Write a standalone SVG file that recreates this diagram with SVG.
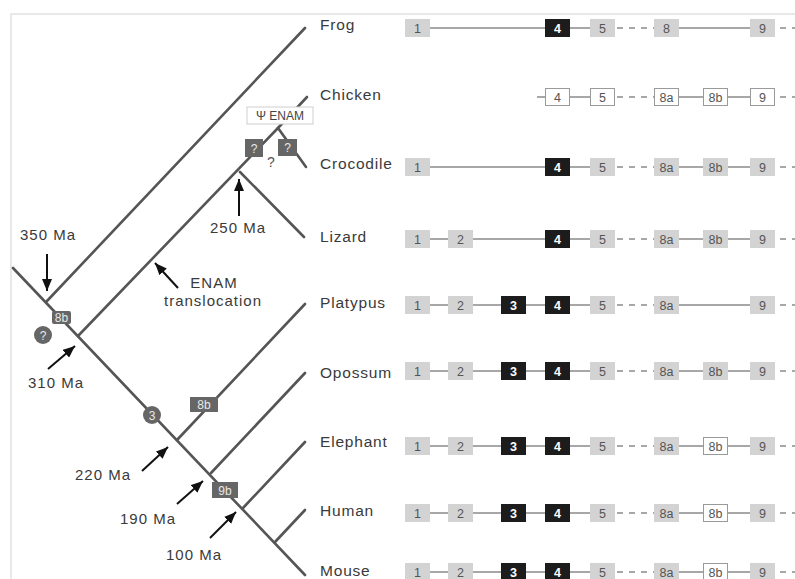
<svg xmlns="http://www.w3.org/2000/svg" width="795" height="579" viewBox="0 0 795 579">
<defs>
<marker id="ah" markerUnits="userSpaceOnUse" markerWidth="12" markerHeight="10" refX="12" refY="5" orient="auto">
<path d="M0,0 L12,5 L0,10 z" fill="#111"/>
</marker>
<style>
.frame{stroke:#e2e2e2;stroke-width:1.5;fill:none}
.br{stroke:#555;stroke-width:2.6;fill:none;stroke-linecap:round}
.arr{stroke:#111;stroke-width:2;fill:none;marker-end:url(#ah)}
.lbl{font-family:"Liberation Sans",Arial,sans-serif;font-size:15px;fill:#3a3a3a;letter-spacing:1px}
.sp{font-family:"Liberation Sans",Arial,sans-serif;font-size:15.5px;fill:#3a3a3a;letter-spacing:0.8px}
.mk{fill:#666}
.mt{font-family:"Liberation Sans",Arial,sans-serif;font-size:12px;fill:#e8e8e8;text-anchor:middle}
.ln{stroke:#8a8a8a;stroke-width:1.5;fill:none}
.ds{stroke:#8a8a8a;stroke-width:1.5;fill:none;stroke-dasharray:6,6}
.L{fill:#d3d3d3}
.D{fill:#1c1c1c}
.W{fill:#fff;stroke:#9a9a9a;stroke-width:1}
.t{font-family:"Liberation Sans",Arial,sans-serif;font-size:12.5px;fill:#555;text-anchor:middle}
.tw{font-family:"Liberation Sans",Arial,sans-serif;font-size:12.5px;fill:#fff;text-anchor:middle;font-weight:bold}
</style>
</defs>
<rect width="795" height="579" fill="#fff"/>
<path class="frame" d="M11,579 L11,14 L795,14"/>

<g id="connectors">
<line class="br" x1="13" y1="268" x2="305" y2="575"/>
<line class="br" x1="47" y1="301" x2="305" y2="28"/>
<line class="br" x1="78" y1="336" x2="278" y2="128"/>
<line class="br" x1="278" y1="128" x2="307" y2="97"/>
<line class="br" x1="278" y1="128" x2="306" y2="167"/>
<line class="br" x1="240" y1="172" x2="304" y2="237"/>
<line class="br" x1="177" y1="440" x2="305" y2="304"/>
<line class="br" x1="211" y1="473" x2="305" y2="373"/>
<line class="br" x1="243" y1="508" x2="305" y2="442"/>
<line class="br" x1="275" y1="542" x2="305" y2="510"/>
</g>

<g id="markers">
<g id="m-8b-root"><rect class="mk" x="52" y="311" width="19" height="13" rx="2"/><text class="mt" x="61.5" y="321.5">8b</text></g>
<g id="m-q-root"><circle class="mk" cx="43" cy="335" r="9"/><text class="mt" x="43" y="339.5">?</text></g>
<g id="m-3"><circle class="mk" cx="152" cy="415" r="9"/><text class="mt" x="152" y="419.5">3</text></g>
<g id="m-8b-plat"><rect class="mk" x="190" y="397" width="28" height="15"/><text class="mt" x="204" y="409">8b</text></g>
<g id="m-9b"><rect class="mk" x="212" y="482" width="26" height="16"/><text class="mt" x="225" y="494.5">9b</text></g>
<g id="m-q1"><rect class="mk" x="245" y="139" width="18" height="18"/><text class="mt" x="254" y="152.5">?</text></g>
<g id="m-q2"><rect class="mk" x="278" y="139" width="19" height="17"/><text class="mt" x="287.5" y="152">?</text></g>
<g id="psi"><rect x="247" y="107" width="66" height="17" fill="#fff" stroke="#cfcfcf" stroke-width="1"/><text x="280" y="120" font-family="'Liberation Sans',Arial,sans-serif" font-size="12" fill="#444" text-anchor="middle">Ψ ENAM</text></g>
<text x="271" y="167" font-family="'Liberation Sans',Arial,sans-serif" font-size="14" fill="#555" text-anchor="middle">?</text>
</g>

<g id="annotations">
<line class="arr" x1="47" y1="254" x2="47" y2="291"/>
<text class="lbl" x="20" y="240">350 Ma</text>
<line class="arr" x1="239" y1="216" x2="239" y2="179"/>
<text class="lbl" x="210" y="233">250 Ma</text>
<line class="arr" x1="178" y1="288" x2="155" y2="263"/>
<text class="lbl" x="214" y="288" text-anchor="middle">ENAM</text>
<text class="lbl" x="213" y="306" text-anchor="middle">translocation</text>
<line class="arr" x1="48" y1="369" x2="75" y2="346"/>
<text class="lbl" x="28" y="388">310 Ma</text>
<line class="arr" x1="142" y1="471" x2="168" y2="447"/>
<text class="lbl" x="75" y="480">220 Ma</text>
<line class="arr" x1="177" y1="504" x2="203" y2="481"/>
<text class="lbl" x="120" y="524">190 Ma</text>
<line class="arr" x1="210" y1="538" x2="236" y2="512"/>
<text class="lbl" x="166" y="560">100 Ma</text>
</g>

<g id="species">
<text class="sp" x="320" y="30">Frog</text>
<text class="sp" x="320" y="100">Chicken</text>
<text class="sp" x="320" y="169">Crocodile</text>
<text class="sp" x="320" y="242">Lizard</text>
<text class="sp" x="320" y="308">Platypus</text>
<text class="sp" x="320" y="378">Opossum</text>
<text class="sp" x="320" y="447">Elephant</text>
<text class="sp" x="320" y="516">Human</text>
<text class="sp" x="320" y="576">Mouse</text>
</g>

<g id="row-frog">
<line class="ln" x1="430" y1="28" x2="590" y2="28"/><line class="ds" x1="617" y1="28" x2="654" y2="28"/><line class="ln" x1="679" y1="28" x2="750" y2="28"/><line class="ds" x1="780" y1="28" x2="795" y2="28"/>
<rect class="L" x="405" y="19" width="25" height="18"/><text class="t" x="417.5" y="32.5">1</text>
<rect class="D" x="545" y="19" width="25" height="18"/><text class="tw" x="557.5" y="32.5">4</text>
<rect class="L" x="590" y="19" width="25" height="18"/><text class="t" x="602.5" y="32.5">5</text>
<rect class="L" x="654" y="19" width="25" height="18"/><text class="t" x="666.5" y="32.5">8</text>
<rect class="L" x="750" y="19" width="25" height="18"/><text class="t" x="762.5" y="32.5">9</text>
</g>

<g id="row-chicken">
<line class="ln" x1="537" y1="97" x2="590" y2="97"/><line class="ds" x1="617" y1="97" x2="654" y2="97"/><line class="ln" x1="679" y1="97" x2="750" y2="97"/><line class="ds" x1="780" y1="97" x2="795" y2="97"/>
<rect class="W" x="545.5" y="88.5" width="24" height="17"/><text class="t" x="557.5" y="101.5">4</text>
<rect class="W" x="590.5" y="88.5" width="24" height="17"/><text class="t" x="602.5" y="101.5">5</text>
<rect class="W" x="654.5" y="88.5" width="24" height="17"/><text class="t" x="666.5" y="101.5">8a</text>
<rect class="W" x="703.5" y="88.5" width="24" height="17"/><text class="t" x="715.5" y="101.5">8b</text>
<rect class="W" x="750.5" y="88.5" width="24" height="17"/><text class="t" x="762.5" y="101.5">9</text>
</g>

<g id="row-crocodile">
<line class="ln" x1="430" y1="167" x2="590" y2="167"/><line class="ds" x1="617" y1="167" x2="654" y2="167"/><line class="ln" x1="679" y1="167" x2="750" y2="167"/><line class="ds" x1="780" y1="167" x2="795" y2="167"/>
<rect class="L" x="405" y="158" width="25" height="18"/><text class="t" x="417.5" y="171.5">1</text>
<rect class="D" x="545" y="158" width="25" height="18"/><text class="tw" x="557.5" y="171.5">4</text>
<rect class="L" x="590" y="158" width="25" height="18"/><text class="t" x="602.5" y="171.5">5</text>
<rect class="L" x="654" y="158" width="25" height="18"/><text class="t" x="666.5" y="171.5">8a</text>
<rect class="L" x="703" y="158" width="25" height="18"/><text class="t" x="715.5" y="171.5">8b</text>
<rect class="L" x="750" y="158" width="25" height="18"/><text class="t" x="762.5" y="171.5">9</text>
</g>

<g id="row-lizard">
<line class="ln" x1="430" y1="239" x2="590" y2="239"/><line class="ds" x1="617" y1="239" x2="654" y2="239"/><line class="ln" x1="679" y1="239" x2="750" y2="239"/><line class="ds" x1="780" y1="239" x2="795" y2="239"/>
<rect class="L" x="405" y="230" width="25" height="18"/><text class="t" x="417.5" y="243.5">1</text>
<rect class="L" x="448" y="230" width="25" height="18"/><text class="t" x="460.5" y="243.5">2</text>
<rect class="D" x="545" y="230" width="25" height="18"/><text class="tw" x="557.5" y="243.5">4</text>
<rect class="L" x="590" y="230" width="25" height="18"/><text class="t" x="602.5" y="243.5">5</text>
<rect class="L" x="654" y="230" width="25" height="18"/><text class="t" x="666.5" y="243.5">8a</text>
<rect class="L" x="703" y="230" width="25" height="18"/><text class="t" x="715.5" y="243.5">8b</text>
<rect class="L" x="750" y="230" width="25" height="18"/><text class="t" x="762.5" y="243.5">9</text>
</g>

<g id="row-platypus">
<line class="ln" x1="430" y1="305" x2="590" y2="305"/><line class="ds" x1="617" y1="305" x2="654" y2="305"/><line class="ln" x1="679" y1="305" x2="750" y2="305"/><line class="ds" x1="780" y1="305" x2="795" y2="305"/>
<rect class="L" x="405" y="296" width="25" height="18"/><text class="t" x="417.5" y="309.5">1</text>
<rect class="L" x="448" y="296" width="25" height="18"/><text class="t" x="460.5" y="309.5">2</text>
<rect class="D" x="501" y="296" width="25" height="18"/><text class="tw" x="513.5" y="309.5">3</text>
<rect class="D" x="545" y="296" width="25" height="18"/><text class="tw" x="557.5" y="309.5">4</text>
<rect class="L" x="590" y="296" width="25" height="18"/><text class="t" x="602.5" y="309.5">5</text>
<rect class="L" x="654" y="296" width="25" height="18"/><text class="t" x="666.5" y="309.5">8a</text>
<rect class="L" x="750" y="296" width="25" height="18"/><text class="t" x="762.5" y="309.5">9</text>
</g>

<g id="row-opossum">
<line class="ln" x1="430" y1="371" x2="590" y2="371"/><line class="ds" x1="617" y1="371" x2="654" y2="371"/><line class="ln" x1="679" y1="371" x2="750" y2="371"/><line class="ds" x1="780" y1="371" x2="795" y2="371"/>
<rect class="L" x="405" y="362" width="25" height="18"/><text class="t" x="417.5" y="375.5">1</text>
<rect class="L" x="448" y="362" width="25" height="18"/><text class="t" x="460.5" y="375.5">2</text>
<rect class="D" x="501" y="362" width="25" height="18"/><text class="tw" x="513.5" y="375.5">3</text>
<rect class="D" x="545" y="362" width="25" height="18"/><text class="tw" x="557.5" y="375.5">4</text>
<rect class="L" x="590" y="362" width="25" height="18"/><text class="t" x="602.5" y="375.5">5</text>
<rect class="L" x="654" y="362" width="25" height="18"/><text class="t" x="666.5" y="375.5">8a</text>
<rect class="L" x="703" y="362" width="25" height="18"/><text class="t" x="715.5" y="375.5">8b</text>
<rect class="L" x="750" y="362" width="25" height="18"/><text class="t" x="762.5" y="375.5">9</text>
</g>

<g id="row-elephant">
<line class="ln" x1="430" y1="446" x2="590" y2="446"/><line class="ds" x1="617" y1="446" x2="654" y2="446"/><line class="ln" x1="679" y1="446" x2="750" y2="446"/><line class="ds" x1="780" y1="446" x2="795" y2="446"/>
<rect class="L" x="405" y="437" width="25" height="18"/><text class="t" x="417.5" y="450.5">1</text>
<rect class="L" x="448" y="437" width="25" height="18"/><text class="t" x="460.5" y="450.5">2</text>
<rect class="D" x="501" y="437" width="25" height="18"/><text class="tw" x="513.5" y="450.5">3</text>
<rect class="D" x="545" y="437" width="25" height="18"/><text class="tw" x="557.5" y="450.5">4</text>
<rect class="L" x="590" y="437" width="25" height="18"/><text class="t" x="602.5" y="450.5">5</text>
<rect class="L" x="654" y="437" width="25" height="18"/><text class="t" x="666.5" y="450.5">8a</text>
<rect class="W" x="703.5" y="437.5" width="24" height="17"/><text class="t" x="715.5" y="450.5">8b</text>
<rect class="L" x="750" y="437" width="25" height="18"/><text class="t" x="762.5" y="450.5">9</text>
</g>

<g id="row-human">
<line class="ln" x1="430" y1="513" x2="590" y2="513"/><line class="ds" x1="617" y1="513" x2="654" y2="513"/><line class="ln" x1="679" y1="513" x2="750" y2="513"/><line class="ds" x1="780" y1="513" x2="795" y2="513"/>
<rect class="L" x="405" y="504" width="25" height="18"/><text class="t" x="417.5" y="517.5">1</text>
<rect class="L" x="448" y="504" width="25" height="18"/><text class="t" x="460.5" y="517.5">2</text>
<rect class="D" x="501" y="504" width="25" height="18"/><text class="tw" x="513.5" y="517.5">3</text>
<rect class="D" x="545" y="504" width="25" height="18"/><text class="tw" x="557.5" y="517.5">4</text>
<rect class="L" x="590" y="504" width="25" height="18"/><text class="t" x="602.5" y="517.5">5</text>
<rect class="L" x="654" y="504" width="25" height="18"/><text class="t" x="666.5" y="517.5">8a</text>
<rect class="W" x="703.5" y="504.5" width="24" height="17"/><text class="t" x="715.5" y="517.5">8b</text>
<rect class="L" x="750" y="504" width="25" height="18"/><text class="t" x="762.5" y="517.5">9</text>
</g>

<g id="row-mouse">
<line class="ln" x1="430" y1="572" x2="590" y2="572"/><line class="ds" x1="617" y1="572" x2="654" y2="572"/><line class="ln" x1="679" y1="572" x2="750" y2="572"/><line class="ds" x1="780" y1="572" x2="795" y2="572"/>
<rect class="L" x="405" y="563" width="25" height="18"/><text class="t" x="417.5" y="576.5">1</text>
<rect class="L" x="448" y="563" width="25" height="18"/><text class="t" x="460.5" y="576.5">2</text>
<rect class="D" x="501" y="563" width="25" height="18"/><text class="tw" x="513.5" y="576.5">3</text>
<rect class="D" x="545" y="563" width="25" height="18"/><text class="tw" x="557.5" y="576.5">4</text>
<rect class="L" x="590" y="563" width="25" height="18"/><text class="t" x="602.5" y="576.5">5</text>
<rect class="L" x="654" y="563" width="25" height="18"/><text class="t" x="666.5" y="576.5">8a</text>
<rect class="W" x="703.5" y="563.5" width="24" height="17"/><text class="t" x="715.5" y="576.5">8b</text>
<rect class="L" x="750" y="563" width="25" height="18"/><text class="t" x="762.5" y="576.5">9</text>
</g>
</svg>
